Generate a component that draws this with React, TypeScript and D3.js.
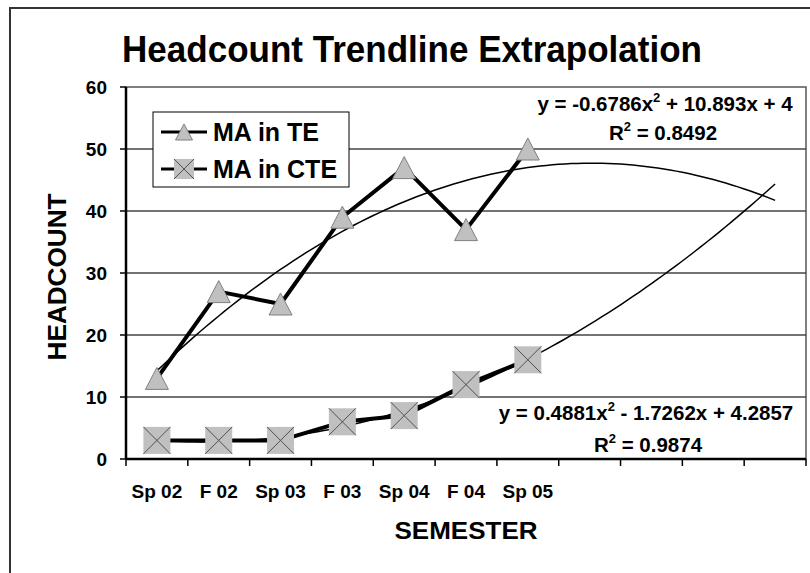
import React from 'react';
import * as d3 from 'd3';

// data
const semesters = ['Sp 02', 'F 02', 'Sp 03', 'F 03', 'Sp 04', 'F 04', 'Sp 05', '', '', '', ''];
const maInTE = [13, 27, 25, 39, 47, 37, 50];
const maInCTE = [3, 3, 3, 6, 7, 12, 16];
const yTicks = [0, 10, 20, 30, 40, 50, 60];

// trendline coefficients printed on the chart [a, b, c] for a*x^2 + b*x + c
const teFit = [-0.6786, 10.893, 4];
const cteFit = [0.4881, -1.7262, 4.2857];

const W = 810;
const H = 573;
const margin = { top: 87, right: 4, bottom: 114, left: 126 };
const FONT = '"Liberation Sans", Arial, sans-serif';

const App = () => {
    const x0 = margin.left;
    const x1 = W - margin.right;
    const y0 = H - margin.bottom;
    const y1 = margin.top;

    // category axis: boundaries on integers, points sit in the middle
    const xScale = d3.scaleLinear().domain([0, semesters.length]).range([x0, x1]);
    const xPos = (i: number) => xScale(i + 0.5);
    const yScale = d3.scaleLinear().domain([0, 60]).range([y0, y1]);

    const line = d3
        .line<number>()
        .x((d, i) => xPos(i))
        .y(d => yScale(d));

    const periods = d3.range(1, 11.001, 0.1);
    const trend = (fit: number[]) =>
        d3
            .line<number>()
            .x(t => xPos(t - 1))
            .y(t => yScale(fit[0] * t * t + fit[1] * t + fit[2]))(periods);

    const tri = (cx: number, cy: number, w: number, h: number) =>
        `M${cx},${cy - h / 2 - 2}L${cx + w / 2},${cy + h / 2 - 2}L${cx - w / 2},${cy + h / 2 - 2}Z`;

    const box = (cx: number, cy: number, s: number, key: string | number) => (
        <g key={key}>
            <rect x={cx - s / 2} y={cy - s / 2} width={s} height={s} fill="#c0c0c0" />
            <path
                d={`M${cx - s / 2},${cy - s / 2}L${cx + s / 2},${cy + s / 2}M${cx + s / 2},${cy - s / 2}L${cx - s / 2},${cy + s / 2}`}
                stroke="#505050"
                strokeWidth={1}
            />
        </g>
    );

    return (
        <svg
            width={W}
            height={H}
            style={{ position: 'absolute', left: 0, top: 0, background: '#fff' }}
            fontFamily={FONT}
            fontWeight="bold"
        >
            {/* outer chart frame */}
            <rect x={10} y={8} width={W + 20} height={H + 20} fill="none" stroke="#333" strokeWidth={2} />

            <text x={412} y={62} textAnchor="middle" fontSize={36} textLength={580} lengthAdjust="spacingAndGlyphs">
                Headcount Trendline Extrapolation
            </text>

            {/* plot area */}
            <rect x={x0} y={y1} width={x1 - x0} height={y0 - y1} fill="#fff" stroke="#555" strokeWidth={1.5} />

            {yTicks.map(t => (
                <g key={t}>
                    {t > 0 && t < 60 && (
                        <line x1={x0} x2={x1} y1={yScale(t)} y2={yScale(t)} stroke="#444" strokeWidth={1.5} />
                    )}
                    <line x1={x0 - 6} x2={x0} y1={yScale(t)} y2={yScale(t)} stroke="#000" strokeWidth={1.5} />
                    <text x={107} y={yScale(t)} dy="0.36em" textAnchor="end" fontSize={19}>
                        {t}
                    </text>
                </g>
            ))}
            <line x1={x0} x2={x0} y1={y1} y2={y0} stroke="#000" strokeWidth={2.5} />
            <line x1={x0} x2={x1} y1={y0} y2={y0} stroke="#000" strokeWidth={2.5} />

            {d3.range(semesters.length + 1).map(i => (
                <line key={i} x1={xScale(i)} x2={xScale(i)} y1={y0} y2={y0 + 7} stroke="#000" strokeWidth={1.5} />
            ))}
            {semesters.map((s, i) => (
                <text key={i} x={xPos(i)} y={498} textAnchor="middle" fontSize={19}>
                    {s}
                </text>
            ))}

            <text x={466} y={539} textAnchor="middle" fontSize={23} textLength={143} lengthAdjust="spacingAndGlyphs">
                SEMESTER
            </text>
            <text
                transform={`translate(66,277) rotate(-90)`}
                textAnchor="middle"
                fontSize={25}
                textLength={167}
                lengthAdjust="spacingAndGlyphs"
            >
                HEADCOUNT
            </text>

            {/* series */}
            <path d={line(maInTE) || ''} fill="none" stroke="#000" strokeWidth={4} strokeLinejoin="round" />
            <path d={line(maInCTE) || ''} fill="none" stroke="#000" strokeWidth={4} strokeLinejoin="round" />

            {/* polynomial trendlines */}
            <path d={trend(teFit) || ''} fill="none" stroke="#000" strokeWidth={1.5} />
            <path d={trend(cteFit) || ''} fill="none" stroke="#000" strokeWidth={1.5} />

            {maInTE.map((v, i) => (
                <path key={i} d={tri(xPos(i), yScale(v) + 2, 23, 22)} fill="#c0c0c0" stroke="#808080" strokeWidth={1} />
            ))}
            {maInCTE.map((v, i) => box(xPos(i), yScale(v), 27, i))}

            {/* trendline labels */}
            <g fontSize={20.5} textAnchor="middle">
                <text x={665} y={111}>
                    y = -0.6786x<tspan dy={-9} fontSize={13}>2</tspan>
                    <tspan dy={9}> + 10.893x + 4</tspan>
                </text>
                <text x={663} y={140}>
                    R<tspan dy={-9} fontSize={13}>2</tspan>
                    <tspan dy={9}> = 0.8492</tspan>
                </text>
                <text x={646} y={420}>
                    y = 0.4881x<tspan dy={-9} fontSize={13}>2</tspan>
                    <tspan dy={9}> - 1.7262x + 4.2857</tspan>
                </text>
                <text x={648} y={452}>
                    R<tspan dy={-9} fontSize={13}>2</tspan>
                    <tspan dy={9}> = 0.9874</tspan>
                </text>
            </g>

            {/* legend */}
            <rect x={153} y={112} width={196} height={75} fill="#fff" stroke="#000" strokeWidth={1} />
            <line x1={161} x2={207} y1={132} y2={132} stroke="#000" strokeWidth={3} />
            <path d={tri(184, 134, 17, 16)} fill="#c0c0c0" stroke="#808080" strokeWidth={1} />
            <text x={213} y={141} fontSize={25}>MA in TE</text>
            <line x1={161} x2={207} y1={169} y2={169} stroke="#000" strokeWidth={3} />
            {box(184, 169, 20, 'lg')}
            <text x={213} y={178} fontSize={25}>MA in CTE</text>
        </svg>
    );
};

export default App;
